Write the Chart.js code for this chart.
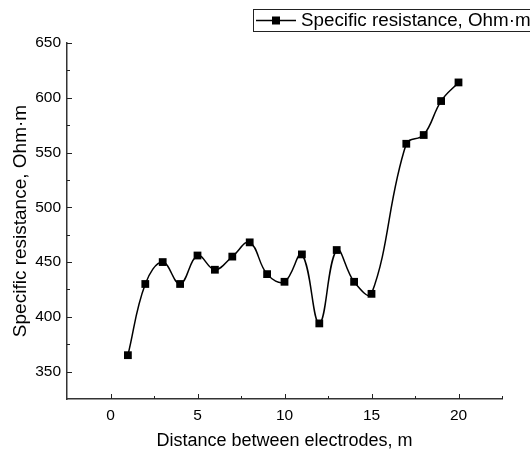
<!DOCTYPE html>
<html>
<head>
<meta charset="utf-8">
<script src="https://cdn.jsdelivr.net/npm/chart.js@4"></script>
<style>
html,body{margin:0;padding:0;background:#fff;}
#wrap{width:530px;height:450px;position:relative;}
</style>
</head>
<body>
<div id="wrap"><canvas id="c" width="530" height="450"></canvas></div>
<script>
const distances = [1, 2, 3, 4, 5, 6, 7, 8, 9, 10, 11, 12, 13, 14, 15, 17, 18, 19, 20];
const resistance = [365, 430, 450, 430, 456, 443, 455, 468, 439, 432, 457, 394, 461, 432, 421, 558, 566, 597, 614];
const xTickValues = [0, 5, 10, 15, 20];
const xMinorValues = [2.5, 7.5, 12.5, 17.5, 22.5];
const yTickValues = [350, 400, 450, 500, 550, 600, 650];
const yMinorValues = [375, 425, 475, 525, 575, 625];
const seriesName = 'Specific resistance, Ohm·m';
const xTitle = 'Distance between electrodes, m';
const yTitle = 'Specific resistance, Ohm·m';

const FONT = 'Liberation Sans, Arial, sans-serif';

const inwardTicks = {
  id: 'inwardTicks',
  afterDraw(chart) {
    const ctx = chart.ctx;
    const xs = chart.scales.x, ys = chart.scales.y;
    const a = chart.chartArea;
    ctx.save();
    ctx.strokeStyle = '#222';
    ctx.lineWidth = 1;
    ctx.beginPath();
    xTickValues.forEach(v => { const p = Math.round(xs.getPixelForValue(v)) + 0.5; ctx.moveTo(p, a.bottom); ctx.lineTo(p, a.bottom - 5); });
    xMinorValues.forEach(v => { const p = Math.round(xs.getPixelForValue(v)) + 0.5; ctx.moveTo(p, a.bottom); ctx.lineTo(p, a.bottom - 3); });
    yTickValues.forEach(v => { const p = Math.round(ys.getPixelForValue(v)) + 0.5; ctx.moveTo(a.left, p); ctx.lineTo(a.left + 5, p); });
    yMinorValues.forEach(v => { const p = Math.round(ys.getPixelForValue(v)) + 0.5; ctx.moveTo(a.left, p); ctx.lineTo(a.left + 3, p); });
    ctx.stroke();
    ctx.restore();
  }
};

const customLegend = {
  id: 'customLegend',
  afterDraw(chart) {
    const ctx = chart.ctx;
    ctx.save();
    ctx.strokeStyle = '#222';
    ctx.lineWidth = 1;
    ctx.strokeRect(253.5, 9.5, 300, 22);
    ctx.beginPath();
    ctx.moveTo(256, 20.5); ctx.lineTo(296, 20.5);
    ctx.lineWidth = 1.5;
    ctx.strokeStyle = '#000';
    ctx.stroke();
    ctx.fillStyle = '#000';
    ctx.fillRect(272, 16.5, 8, 8);
    ctx.font = '18.8px ' + FONT;
    ctx.textBaseline = 'middle';
    ctx.fillText(seriesName, 301, 21);
    ctx.restore();
  }
};

new Chart(document.getElementById('c'), {
  type: 'line',
  data: {
    datasets: [{
      label: seriesName,
      data: distances.map((d, i) => ({ x: d, y: resistance[i] })),
      borderColor: '#000',
      backgroundColor: '#000',
      borderWidth: 1.5,
      pointStyle: 'rect',
      pointRadius: 5.5,
      pointBorderWidth: 0,
      tension: 0.4,
      fill: false
    }]
  },
  options: {
    responsive: false,
    animation: false,
    layout: { padding: { top: 43, right: 28, left: 0, bottom: 0 } },
    plugins: { legend: { display: false }, tooltip: { enabled: false } },
    scales: {
      x: {
        type: 'linear',
        min: -2.5,
        max: 22.5,
        afterBuildTicks(s) { s.ticks = xTickValues.map(v => ({ value: v })); },
        afterFit(s) { s.height = 51; },
        grid: { display: false, drawTicks: false },
        border: { display: true, color: '#333', width: 1.5 },
        ticks: { color: '#000', font: { family: FONT, size: 15.5 }, padding: 7, maxRotation: 0 },
        title: { display: true, text: xTitle, color: '#000', font: { family: FONT, size: 18 }, padding: { top: 0, bottom: -2 } }
      },
      y: {
        type: 'linear',
        min: 325,
        max: 650,
        afterBuildTicks(s) { s.ticks = yTickValues.map(v => ({ value: v })); },
        afterFit(s) { s.width = 67; },
        grid: { display: false, drawTicks: false },
        border: { display: true, color: '#333', width: 1.5 },
        ticks: { color: '#000', font: { family: FONT, size: 15.5 }, padding: 6 },
        title: { display: true, text: yTitle, color: '#000', font: { family: FONT, size: 19 }, padding: { top: 9, bottom: 0 } }
      }
    }
  },
  plugins: [inwardTicks, customLegend]
});
</script>
</body>
</html>
